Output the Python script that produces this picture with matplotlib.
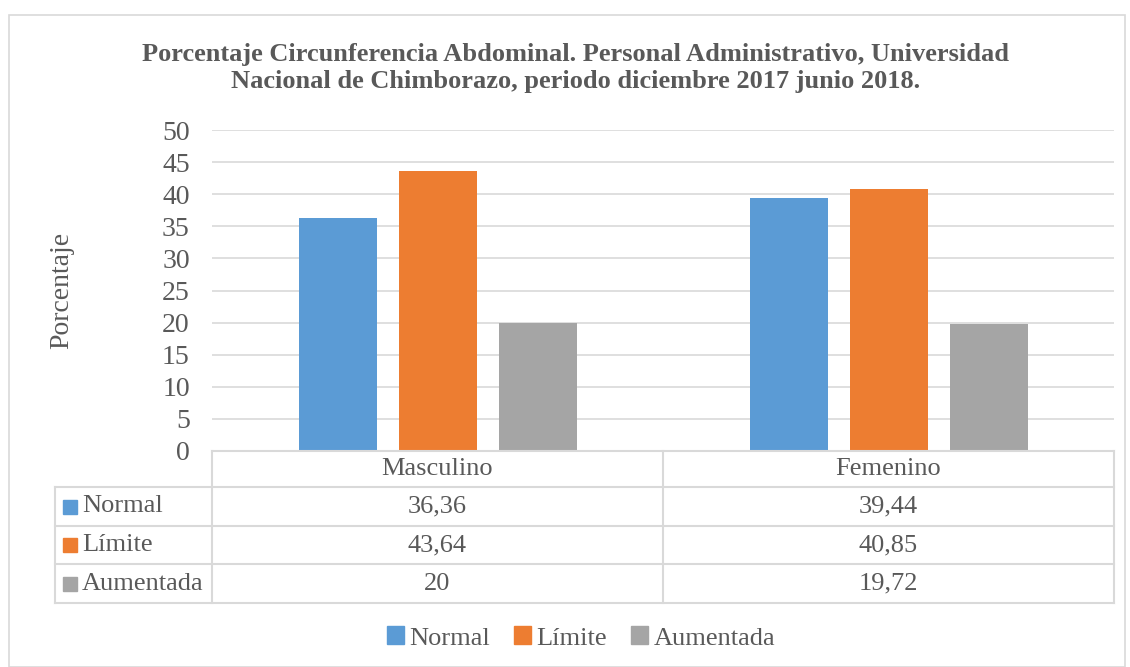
import numpy as np
import matplotlib.pyplot as plt
from matplotlib.lines import Line2D
from matplotlib.patches import Rectangle

#DATA
categories = ["Masculino", "Femenino"]
series = ["Normal", "Límite", "Aumentada"]
normal = [36.36, 39.44]
limite = [43.64, 40.85]
aumentada = [20, 19.72]
labels_normal = ["36,36", "39,44"]
labels_limite = ["43,64", "40,85"]
labels_aumentada = ["20", "19,72"]
values = [normal, limite, aumentada]
cell_text = [labels_normal, labels_limite, labels_aumentada]
colors = ["#5B9BD5", "#ED7D31", "#A5A5A5"]
yticks = list(range(0, 55, 5))

plt.rcParams['font.family'] = ['Liberation Serif', 'DejaVu Serif']
txt = "#595959"
gridc = "#D9D9D9"
fs = 19

W, H = 1130, 667
fig = plt.figure(figsize=(W / 100, H / 100), dpi=100)

def fx(px):
    return px / W

def fy(py):
    return 1 - py / H

#OUTER FRAME
fig.patches.append(Rectangle((fx(9), fy(667)), fx(1125) - fx(9), fy(15) - fy(667),
                             transform=fig.transFigure, fill=False, edgecolor=gridc, lw=1.2))

#MAIN AXES
x0, x1, ytop, ybot = 212, 1114, 130, 451
ax = fig.add_axes([fx(x0), fy(ybot), fx(x1) - fx(x0), fy(ytop) - fy(ybot)])
x = np.arange(len(categories))
w = 78 / 451
step = 100 / 451
for i, (s, v) in enumerate(zip(series, values)):
    ax.bar(x + (i - 1) * step, v, w, color=colors[i], zorder=3, label=s)
ax.set_xlim(-0.5, len(categories) - 0.5)
ax.set_ylim(0, 50)
ax.set_yticks(yticks)
ax.set_yticklabels([str(t) for t in yticks], fontsize=20, color=txt)
ax.set_xticks([])
ax.tick_params(axis='y', length=0, pad=16)
ax.grid(axis='y', color=gridc, lw=1.2, zorder=0)
for sp in ax.spines.values():
    sp.set_visible(False)
fig.text(fx(62), fy(290), "Porcentaje", rotation=90, ha='center', va='center', fontsize=20, color=txt)

#TITLE
fig.text(fx(576), fy(68), "Porcentaje Circunferencia Abdominal. Personal Administrativo, Universidad\n"
         "Nacional de Chimborazo, periodo diciembre 2017 junio 2018.",
         ha='center', va='center', fontsize=fs, fontweight='bold', color=txt, linespacing=1.2)

#DATA TABLE
rows_y = [451, 487, 526, 564, 603]
tl = 55
cols_x = [x0, 663, x1]
def hline(y, xa, xb):
    fig.add_artist(Line2D([fx(xa), fx(xb)], [fy(y), fy(y)], color=gridc, lw=1.5))
def vline(xp, ya, yb):
    fig.add_artist(Line2D([fx(xp), fx(xp)], [fy(ya), fy(yb)], color=gridc, lw=1.5))

hline(rows_y[0], x0, x1)
for y in rows_y[1:]:
    hline(y, tl, x1)
vline(tl, rows_y[1], rows_y[-1])
for xp in cols_x:
    vline(xp, rows_y[0], rows_y[-1])

for j, c in enumerate(categories):
    cx = (cols_x[j] + cols_x[j + 1]) / 2
    fig.text(fx(cx), fy((rows_y[0] + rows_y[1]) / 2), c, ha='center', va='center', fontsize=fs, color=txt)
for i, s in enumerate(series):
    cy = (rows_y[i + 1] + rows_y[i + 2]) / 2
    fig.patches.append(Rectangle((fx(63), fy(cy + 7)), fx(14), fy(0) - fy(14),
                                 transform=fig.transFigure, color=colors[i]))
    fig.text(fx(82), fy(cy), s, ha='left', va='center', fontsize=fs, color=txt)
    for j in range(len(categories)):
        cx = (cols_x[j] + cols_x[j + 1]) / 2
        fig.text(fx(cx), fy(cy), cell_text[i][j], ha='center', va='center', fontsize=fs, color=txt)

#LEGEND
handles = [Rectangle((0, 0), 1, 1, color=c) for c in colors]
fig.legend(handles, series, loc='center', bbox_to_anchor=(fx(581), fy(638)), ncol=3, frameon=False,
           fontsize=fs, handlelength=0.65, handleheight=0.65, handletextpad=0.2, columnspacing=0.9,
           labelcolor=txt)

plt.savefig("out.png", dpi=100)
